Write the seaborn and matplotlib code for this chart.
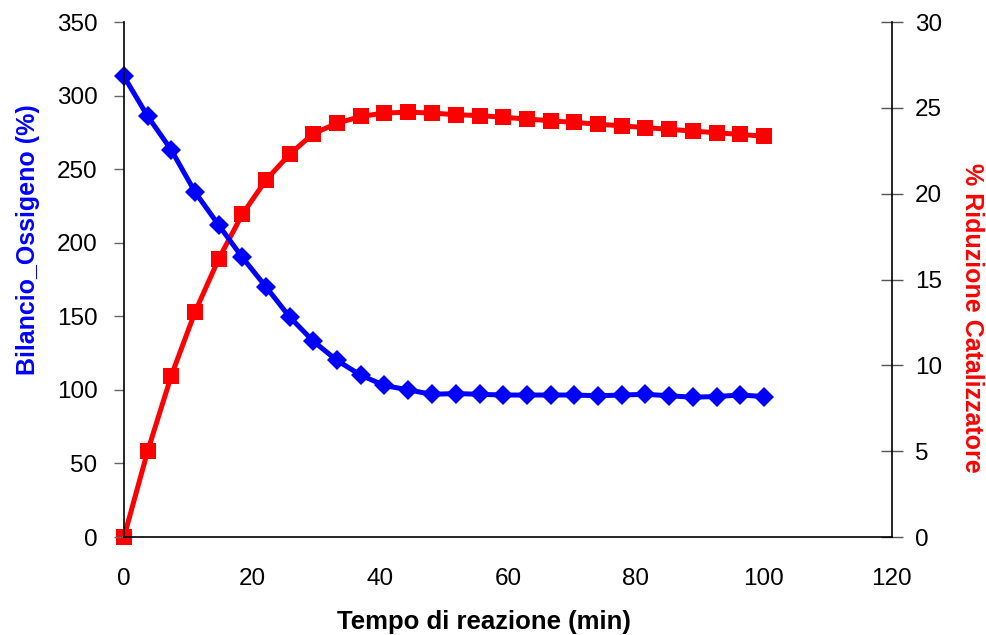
import matplotlib
matplotlib.use("Agg")
import matplotlib.pyplot as plt
import seaborn as sns
import numpy as np
import pandas as pd

# tempo di reazione (min), 28 campioni
tempo = [0.0, 3.7, 7.4, 11.1, 14.8, 18.5, 22.2, 25.9, 29.6, 33.3, 37.0, 40.7, 44.4, 48.1,
         51.9, 55.6, 59.3, 63.0, 66.7, 70.4, 74.1, 77.8, 81.5, 85.2, 88.9, 92.6, 96.3, 100.0]
bilancio_ossigeno = [313, 286, 263, 234.5, 212, 190, 170, 149.5, 133, 120, 110, 103, 100, 97,
                     97.5, 97, 96.5, 96.5, 96.5, 96.5, 96, 96.5, 97, 96, 95, 95.5, 96.5, 95.5]
riduzione_cat = [0.0, 5.0, 9.4, 13.1, 16.2, 18.8, 20.8, 22.3, 23.5, 24.1, 24.5, 24.7, 24.75, 24.7,
                 24.6, 24.55, 24.45, 24.35, 24.25, 24.15, 24.05, 23.95, 23.85, 23.75, 23.65,
                 23.55, 23.45, 23.35]

sns.set_style("white")
plt.rcParams['font.family'] = ['Liberation Sans', 'DejaVu Sans']

df = pd.DataFrame({"tempo": tempo, "bilancio": bilancio_ossigeno, "riduzione": riduzione_cat})

fig = plt.figure(figsize=(9.87, 6.35), dpi=100)
ax = fig.add_axes([0.1256, 0.1543, 0.778, 0.811])
ax2 = ax.twinx()

sns.lineplot(data=df, x="tempo", y="riduzione", ax=ax2, color="#ff0000", lw=3.6,
             marker="s", markersize=11.5, markeredgewidth=0, clip_on=False)
sns.lineplot(data=df, x="tempo", y="bilancio", ax=ax, color="#0000ff", lw=3.6,
             marker="D", markersize=10, markeredgewidth=0, clip_on=False)

# blue series drawn over the red one
ax.set_zorder(ax2.get_zorder() + 1)
ax.patch.set_visible(False)

ax.set_xlim(0, 120)
ax.set_ylim(0, 350)
ax2.set_ylim(0, 30)
ax.set_xticks(range(0, 121, 20))
ax.set_yticks(range(0, 351, 50))
ax2.set_yticks(range(0, 31, 5))

ax.set_xlabel("Tempo di reazione (min)", fontsize=18.5, fontweight="bold", color="black", va="top")
ax.set_ylabel("Bilancio_Ossigeno (%)", fontsize=18, fontweight="bold", color="#0000ff", va="bottom")
ax2.set_ylabel("% Riduzione Catalizzatore", fontsize=18, fontweight="bold", color="#ff0000",
               rotation=270, va="bottom")
ax.xaxis.set_label_coords(0.469, -0.142)
ax.yaxis.set_label_coords(-0.109, 0.577)
ax2.yaxis.set_label_coords(1.089, 0.425)

for a in (ax, ax2):
    a.spines["top"].set_visible(False)
    for s in a.spines.values():
        s.set_color("black")
        s.set_linewidth(1.2)
ax.spines["right"].set_visible(False)
ax2.spines["left"].set_visible(False)
ax2.spines["bottom"].set_visible(False)

ax.tick_params(axis="x", direction="out", length=6, width=1, color="#666666",
               labelsize=17.5, labelcolor="black", pad=16)
ax.tick_params(axis="y", direction="out", length=7, width=1, color="#666666",
               labelsize=17.5, labelcolor="black", pad=12)
ax2.tick_params(axis="y", direction="inout", length=16, width=1, color="#555555",
                labelsize=17.5, labelcolor="black", pad=8.5)

fig.savefig("out.png", dpi=100)
